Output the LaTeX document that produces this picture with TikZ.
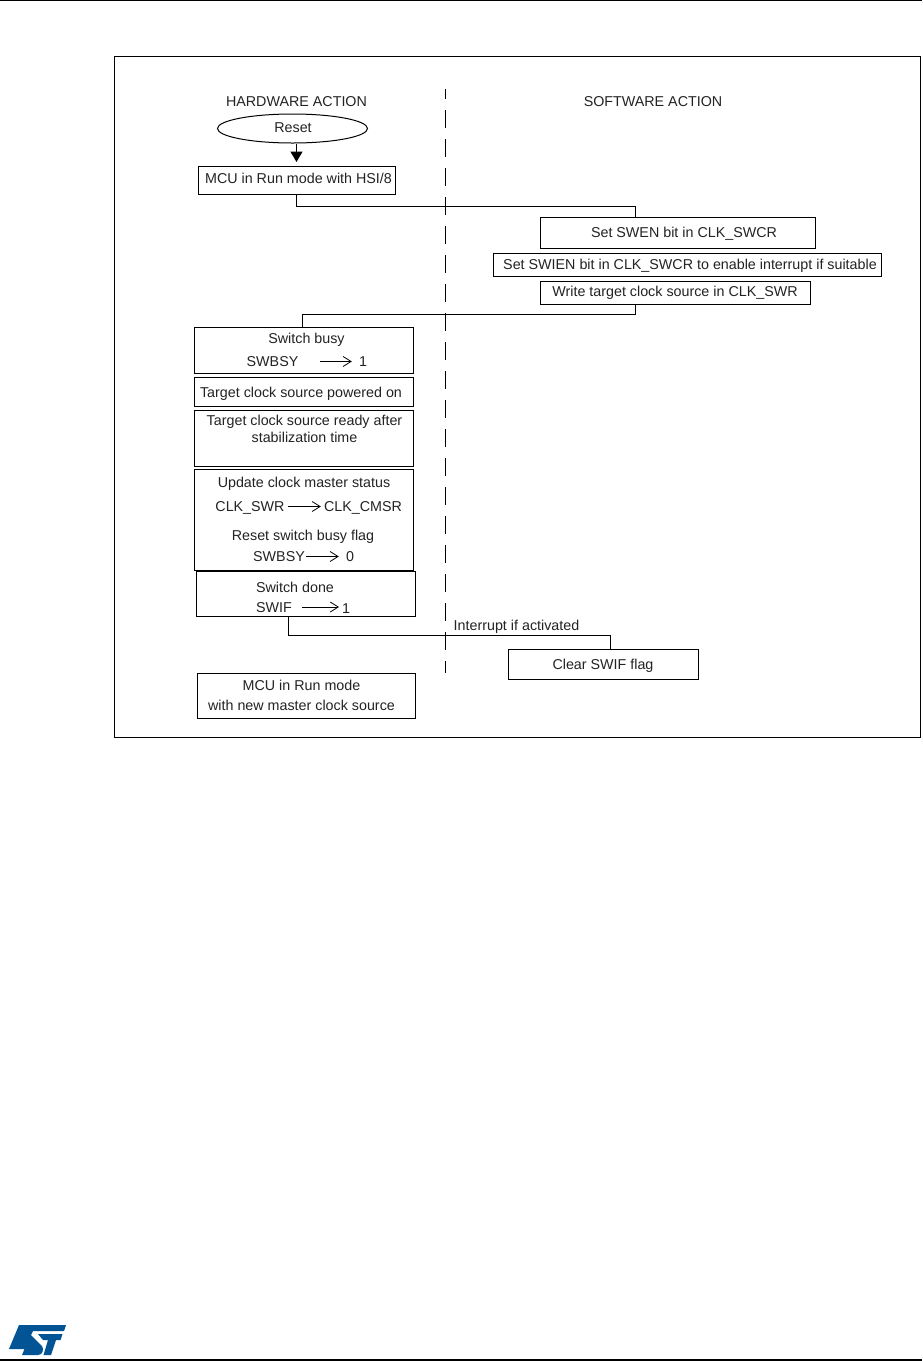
\documentclass[tikz,border=0pt]{standalone}
\usepackage{fontspec}
\setmainfont{Liberation Sans}
\usepackage{tikz}
\usetikzlibrary{shapes}
\usetikzlibrary{arrows.meta}
\definecolor{st_blue}{RGB}{3,84,148}
\definecolor{ink}{RGB}{35,35,35}
\tikzset{
	node_text/.style = {
		align=center,
		inner sep=0pt,
		text=ink,
		text height=12pt,
		text depth=2pt,
		font=\fontsize{14.3}{17}\selectfont
	},
	node_lines/.style = {
		node_text,
		text height=,
		text depth=
	},
	node_box/.style = {
		node_text,
		rectangle,
		draw=black,
		line width=1pt
	},
	node_reset/.style = {
		node_text,
		ellipse,
		draw=black,
		line width=1pt,
		minimum width=150pt,
		minimum height=29pt
	},
	link/.style = {
		draw=black,
		line width=1pt
	},
	flag_arrow/.style = {
		-{Straight Barb[width=10pt,length=8pt,line width=0.8pt]},
		line width=0.8pt,
		draw=black
	},
}

\begin{document}
\begin{tikzpicture}[x=1pt,y=-1pt]
\useasboundingbox (0,0) rectangle (922,1361);
\fill [white] (0,0) rectangle (922,1361);
% page rules and frame
\draw [line width=1.2pt] (0,0.8) -- (922,0.8);
\draw [line width=1.2pt] (0,1360) -- (922,1360);
\draw [line width=1pt] (114.5,56.5) rectangle (920.5,737.5);
\draw [line width=1pt, dash pattern=on 18pt off 11pt, dash phase=8pt] (445.5,89) -- (445.5,673);
% headings
\node [node_text] (hw_title) at (296.5,101) {HARDWARE ACTION};
\node [node_text] (sw_title) at (653,101) {SOFTWARE ACTION};
% hardware side
\node [node_reset] (reset) at (292.5,128.5) {};
\node [node_text] (reset_text) at (293,127.5) {Reset};
\node [node_box, minimum width=197pt, minimum height=28pt] (mcu_hsi) at (296.5,180) {};
\node [node_text] (mcu_hsi_text) at (298.5,178) {MCU in Run mode with HSI/8};
\node [node_box, minimum width=219.5pt, minimum height=45.5pt] (busy) at (303.75,350.25) {};
\node [node_text] (busy_text) at (306.5,338.5) {Switch busy};
\node [node_text] (busy_from) at (272.5,361.5) {SWBSY};
\node [node_text] (busy_to) at (363,361.5) {1};
\node [node_box, minimum width=219.5pt, minimum height=29pt] (powered) at (303.75,391.5) {};
\node [node_text] (powered_text) at (301,392.5) {Target clock source powered on};
\node [node_box, minimum width=219.5pt, minimum height=56pt] (ready) at (303.75,438) {};
\node [node_lines] (ready_text) at (304.5,428.5) {Target clock source ready after\\stabilization time};
\node [node_box, minimum width=219.5pt, minimum height=101pt] (update) at (303.75,519.5) {};
\node [node_text] (update_text) at (304,482.5) {Update clock master status};
\node [node_text] (swr_from) at (250,506.5) {CLK\_SWR};
\node [node_text] (swr_to) at (363,506.5) {CLK\_CMSR};
\node [node_text] (clear_text) at (303,535.5) {Reset switch busy flag};
\node [node_text] (clear_from) at (279,556.5) {SWBSY};
\node [node_text] (clear_to) at (350,556.5) {0};
\node [node_box, minimum width=219pt, minimum height=45pt] (done) at (306,593.5) {};
\node [node_text] (done_text) at (295,587) {Switch done};
\node [node_text] (done_from) at (274,607) {SWIF};
\node [node_text] (done_to) at (346,608) {1};
\node [node_box, minimum width=218.5pt, minimum height=44.5pt] (mcu_new) at (306.25,695.75) {};
\node [node_lines] (mcu_new_text) at (301.5,695) {MCU in Run mode\\[3pt]with new master clock source};
% software side
\node [node_box, minimum width=275pt, minimum height=30.5pt] (swen) at (677.5,232.75) {};
\node [node_text] (swen_text) at (684,232) {Set SWEN bit in CLK\_SWCR};
\node [node_box, minimum width=388pt, minimum height=23.5pt] (swien) at (687.5,264.75) {};
\node [node_text] (swien_text) at (690,264) {Set SWIEN bit in CLK\_SWCR to enable interrupt if suitable};
\node [node_box, minimum width=270pt, minimum height=23pt] (target) at (675,293) {};
\node [node_text] (target_text) at (675,291.5) {Write target clock source in CLK\_SWR};
\node [node_box, minimum width=190pt, minimum height=30pt] (clear_swif) at (603,664.5) {Clear SWIF flag};
\node [node_text] (irq_text) at (516.5,625.5) {Interrupt if activated};
% connectors
\draw [link, line width=1.4pt, -{Triangle[width=12pt,length=10.5pt]}, shorten >=3.5pt] (reset.south -| mcu_hsi.north) -- (mcu_hsi.north);
\draw [link] (mcu_hsi.south) -- ++(0,12) -| ([xshift=-41.8pt]swen.north);
\draw [link] ([xshift=-39.3pt]target.south) -- ++(0,9) -| ([xshift=-1.75pt]busy.north);
\draw [link] ([xshift=-18pt]done.south) -- ++(0,18.5) -| ([xshift=7pt]clear_swif.north);
% arrows inside the boxes
\draw [flag_arrow, shorten <=21pt, shorten >=7pt] (busy_from) -- (busy_to);
\draw [flag_arrow, shorten <=3pt, shorten >=3pt] (swr_from) -- (swr_to);
\draw [flag_arrow, shorten <=1pt, shorten >=7pt] (clear_from) -- (clear_to);
\draw [flag_arrow, shorten <=10pt, shorten >=7pt] (done_from) -- (done_to |- done_from);
% logo
\fill [st_blue] (19,1325) -- (66,1325) -- (64,1331) -- (33,1331) -- (31,1335) -- (42,1346) .. controls (44,1349) and (43,1355) .. (38,1355) -- (22,1355) -- (24.5,1349) -- (9,1349) -- cycle;
\fill [st_blue] (38,1334) -- (62.5,1334) -- (60.5,1340) -- (56,1340) -- (51,1355) -- (43.5,1355) -- (48,1340) -- (43,1340) -- cycle;
\end{tikzpicture}
\end{document}
